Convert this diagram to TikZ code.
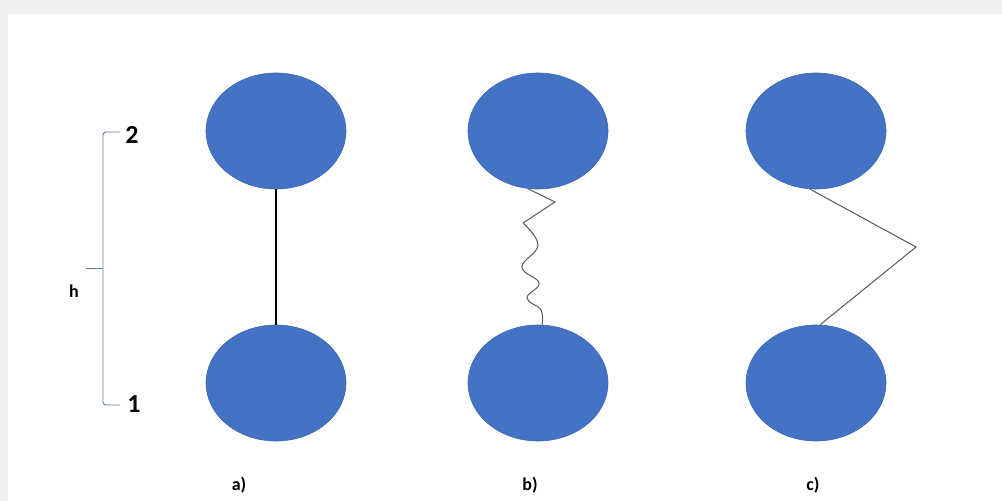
\documentclass[tikz,border=0pt]{standalone}
\usepackage{fontspec}
\setsansfont{Carlito}
\usetikzlibrary{shapes.geometric, calc}

\definecolor{ballblue}{HTML}{4472C4}
\definecolor{bracecol}{HTML}{5B7FA6}

\begin{document}
\begin{tikzpicture}[
  x=1pt, y=-1pt,
  ball/.style  = {ellipse, draw=ballblue!90!black, fill=ballblue, line width=0.6pt,
                  minimum width=140pt, minimum height=116pt, inner sep=0pt},
  link/.style  = {line width=1pt, draw=black!65},
  brace/.style = {line width=0.9pt, draw=bracecol, rounded corners=3pt},
  num/.style   = {font=\sffamily\bfseries\fontsize{26}{28}\selectfont, inner sep=0pt},
  lbl/.style   = {font=\sffamily\bfseries\fontsize{18}{20}\selectfont, inner sep=0pt},
]
  \useasboundingbox (0,0) rectangle (1002,501);
  \fill[gray!12] (0,0) rectangle (1002,501);
  \fill[white] (8,14) rectangle (1002,501);

  % the three pairs of balls
  \node[ball] (a2) at (276,131) {};
  \node[ball] (a1) at (276,383) {};
  \node[ball] (b2) at (538,131) {};
  \node[ball] (b1) at (538,383) {};
  \node[ball] (c2) at (816,131) {};
  \node[ball] (c1) at (816,383) {};

  \node[lbl] (la) at (239,485) {a)};
  \node[lbl] (lb) at (530,485) {b)};
  \node[lbl] (lc) at (813,485) {c)};

  % rigid, spring and bent links
  \draw[line width=1.2pt] (a2.south) -- (a1.north);

  \draw[link] (b2.-100) -- (555,202) -- (523,223);
  \draw[link] plot[smooth, tension=0.7] coordinates
    {(523,223) (538,245) (522,267) (539,283) (527,298) (541,310) (b1.86)};

  \coordinate (knee) at (916,247);
  \draw[link] (c2.-96) -- (knee) -- (c1.86);

  % height bracket
  \node[num] (n2) at (132,135) {2};
  \node[num] (n1) at (134,404) {1};
  \node[lbl] (h) at (74,291) {h};

  \coordinate (btop) at (120,132);
  \coordinate (bbot) at (120,405);
  \coordinate (bmid) at (86,268);
  \draw[brace] (btop) -- (103,132) -- (103,405) -- (bbot);
  \draw[line width=0.9pt, draw=bracecol] (bmid) -- (103,268);
\end{tikzpicture}
\end{document}
